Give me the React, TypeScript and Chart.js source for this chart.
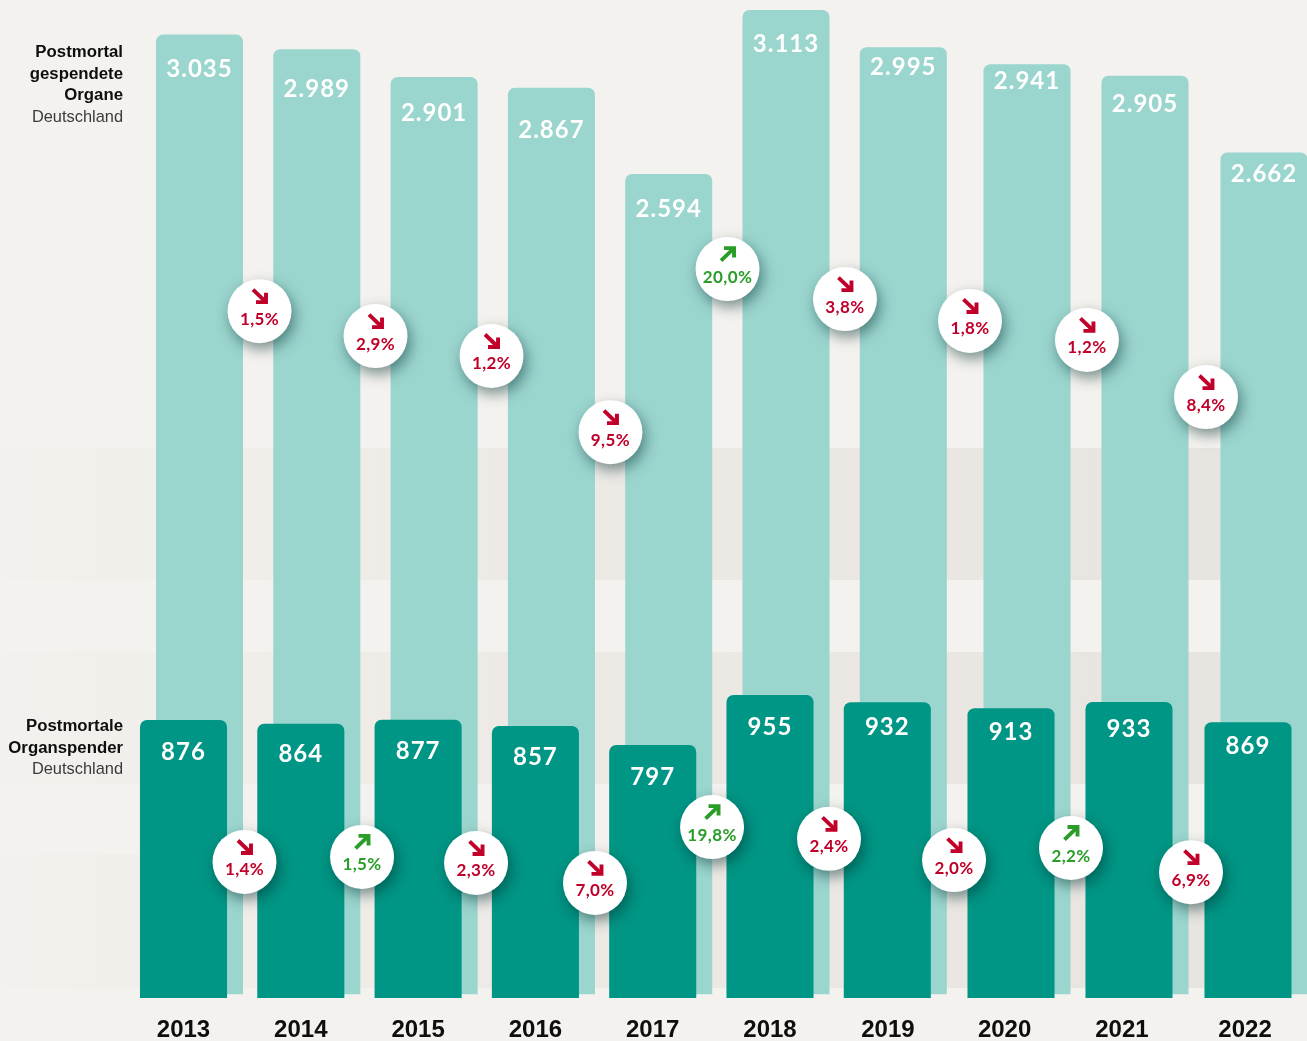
import React, { useEffect, useRef } from "react";
import { Chart, registerables } from "chart.js";

Chart.register(...registerables);

const years = [2013, 2014, 2015, 2016, 2017, 2018, 2019, 2020, 2021, 2022];
const organValues = [3035, 2989, 2901, 2867, 2594, 3113, 2995, 2941, 2905, 2662];
const donorValues = [876, 864, 877, 857, 797, 955, 932, 913, 933, 869];
const organChanges = [-1.5, -2.9, -1.2, -9.5, 20.0, -3.8, -1.8, -1.2, -8.4];
const donorChanges = [-1.4, 1.5, -2.3, -7.0, 19.8, -2.4, -2.0, 2.2, -6.9];
const organBadgeLevels = [2161, 2082, 2019, 1778, 2294, 2199, 2130, 2070, 1889];
const donorBadgeLevels = [429, 445, 426, 363, 539, 502, 435, 473, 397];
const organBadgeSlots = [2013.648, 2014.637, 2015.626, 2016.64, 2017.638, 2018.639, 2019.705, 2020.702, 2021.717];
const donorBadgeSlots = [2013.52, 2014.522, 2015.494, 2016.508, 2017.506, 2018.503, 2019.569, 2020.566, 2021.589];
const organCaption = ["Postmortal", "gespendete", "Organe"];
const donorCaption = ["Postmortale", "Organspender"];
const captionRegion = "Deutschland";

const BAR_SHIFT = [0, 0, 0, 0, 0, 0, 0, 0.0546, 0.0605, 0.075];
const TICK_SHIFT = [0, 0, 0, 0, 0, 0, 0.005, 0, 0, 0.05];
const ORGAN_LABEL_DROP = [34, 39.5, 36, 42, 35, 34, 19.5, 16.5, 28, 21];
const DONOR_LABEL_DROP = [32, 30, 31, 31, 32, 32, 25, 24, 27, 24];
const ORGAN_OFFSET = 0.1364;
const W = 1307;
const H = 1041;
const BG = "#F4F2EE";
const LIGHT = "#9AD5CE";
const DARK = "#009685";
const RED = "#C1002A";
const GREEN = "#2A9D28";
const BAR_FONT = "bold 24px Lato";
const BADGE_FONT = "bold 17px Lato";
const CAPTION_BOLD = "bold 16.8px 'Liberation Sans'";
const CAPTION_REG = "16.4px 'Liberation Sans'";

const fmtValue = (v: number) => v.toLocaleString("de-DE");
const fmtChange = (v: number) => Math.abs(v).toFixed(1).replace(".", ",") + "%";

function drawArrow(ctx: CanvasRenderingContext2D, x: number, y: number, up: boolean, color: string) {
  const s = up ? -1 : 1;
  ctx.save();
  ctx.translate(x, y);
  ctx.strokeStyle = color;
  ctx.lineWidth = 3.9;
  ctx.lineJoin = "miter";
  ctx.lineCap = "butt";
  ctx.beginPath();
  ctx.moveTo(-7, -6.5 * s);
  ctx.lineTo(6, 6 * s);
  ctx.stroke();
  ctx.beginPath();
  ctx.moveTo(6, -3.5 * s);
  ctx.lineTo(6, 6 * s);
  ctx.lineTo(-4, 6 * s);
  ctx.stroke();
  ctx.restore();
}

const backgroundPlugin = {
  id: "bands",
  beforeDraw(chart: any) {
    const { ctx } = chart;
    ctx.save();
    ctx.fillStyle = BG;
    ctx.fillRect(0, 0, W, H);
    const g = ctx.createLinearGradient(0, 0, W, 0);
    g.addColorStop(0, "#F3F1ED");
    g.addColorStop(0.35, "#EEEBE7");
    g.addColorStop(1, "#E7E4DF");
    ctx.fillStyle = g;
    for (const [a, b] of [[448, 580], [652, 784], [854, 988]]) ctx.fillRect(0, a, W, b - a);
    ctx.restore();
  },
};

const badgeShadowPlugin = {
  id: "badgeShadow",
  beforeDatasetDraw(chart: any, args: any) {
    if (args.meta.type !== "scatter") return;
    const { ctx } = chart;
    ctx.save();
    ctx.shadowColor = "rgba(0,45,45,0.5)";
    ctx.shadowBlur = 14;
    ctx.shadowOffsetX = 3;
    ctx.shadowOffsetY = 6;
  },
  afterDatasetDraw(chart: any, args: any) {
    const { ctx } = chart;
    const ds = chart.data.datasets[args.index];
    if (args.meta.type === "scatter") {
      ctx.restore();
      const changes = ds.changes as number[];
      args.meta.data.forEach((pt: any, i: number) => {
        const v = changes[i];
        const color = v > 0 ? GREEN : RED;
        drawArrow(ctx, pt.x + 0.5, pt.y - 15, v > 0, color);
        ctx.save();
        ctx.font = BADGE_FONT;
        (ctx as any).letterSpacing = "0.4px";
        ctx.fillStyle = color;
        ctx.textAlign = "center";
        ctx.textBaseline = "middle";
        ctx.fillText(fmtChange(v), pt.x, pt.y + 8);
        ctx.restore();
      });
    } else {
      const values = ds.values as number[];
      const drops = ds.labelDrop as number[];
      args.meta.data.forEach((bar: any, i: number) => {
        ctx.save();
        ctx.font = BAR_FONT;
        (ctx as any).letterSpacing = "1px";
        ctx.fillStyle = "#FFFFFF";
        ctx.textAlign = "center";
        ctx.textBaseline = "middle";
        ctx.fillText(fmtValue(values[i]), bar.x, bar.y + drops[i]);
        ctx.restore();
      });
    }
  },
};

const captionPlugin = {
  id: "captions",
  afterDraw(chart: any) {
    const { ctx } = chart;
    const block = (lines: string[], startY: number) => {
      ctx.save();
      ctx.textAlign = "right";
      ctx.textBaseline = "middle";
      ctx.font = CAPTION_BOLD;
      ctx.fillStyle = "#0E0E0E";
      lines.forEach((t, i) => ctx.fillText(t, 123, startY + i * 21.5));
      ctx.font = CAPTION_REG;
      ctx.fillStyle = "#3A3A3A";
      ctx.fillText(captionRegion, 123, startY + lines.length * 21.5);
      ctx.restore();
    };
    block(organCaption, 52.5);
    block(donorCaption, 726.5);
  },
};

export default function App() {
  const ref = useRef<HTMLCanvasElement | null>(null);

  useEffect(() => {
    document.body.style.background = BG;
    const chart = new Chart(ref.current as HTMLCanvasElement, {
      type: "bar",
      data: {
        datasets: [
          {
            type: "scatter",
            data: donorBadgeLevels.map((y, i) => ({ x: donorBadgeSlots[i], y })),
            changes: donorChanges,
            yAxisID: "y",
            pointRadius: 32,
            pointHoverRadius: 32,
            pointBackgroundColor: "#FFFFFF",
            pointBorderWidth: 0,
            order: 1,
          },
          {
            type: "bar",
            data: donorValues.map((y, i) => ({ x: years[i] + BAR_SHIFT[i], y })),
            values: donorValues,
            labelDrop: DONOR_LABEL_DROP,
            yAxisID: "y",
            backgroundColor: DARK,
            barThickness: 86.4,
            grouped: false,
            borderRadius: { topLeft: 7, topRight: 7, bottomLeft: 0, bottomRight: 0 },
            borderSkipped: false,
            order: 2,
          },
          {
            type: "scatter",
            data: organBadgeLevels.map((y, i) => ({ x: organBadgeSlots[i], y })),
            changes: organChanges,
            yAxisID: "yOrgan",
            pointRadius: 32,
            pointHoverRadius: 32,
            pointBackgroundColor: "#FFFFFF",
            pointBorderWidth: 0,
            order: 3,
          },
          {
            type: "bar",
            data: organValues.map((y, i) => ({ x: years[i] + BAR_SHIFT[i] + ORGAN_OFFSET, y })),
            values: organValues,
            labelDrop: ORGAN_LABEL_DROP,
            yAxisID: "yOrgan",
            backgroundColor: LIGHT,
            barThickness: 86.4,
            grouped: false,
            borderRadius: { topLeft: 7, topRight: 7, bottomLeft: 0, bottomRight: 0 },
            borderSkipped: false,
            order: 4,
          },
        ] as any,
      },
      options: {
        animation: false,
        responsive: false,
        layout: { padding: 0, autoPadding: false },
        events: [],
        plugins: { legend: { display: false }, tooltip: { enabled: false } },
        scales: {
          x: {
            type: "linear",
            min: 2011.4356,
            max: 2022.578,
            offset: false,
            grid: { display: false },
            border: { display: false },
            afterFit(scale: any) {
              scale.height = 43;
            },
            afterBuildTicks(scale: any) {
              scale.ticks = years.map((y, i) => ({ value: y + TICK_SHIFT[i], label: String(y) }));
            },
            ticks: {
              autoSkip: false,
              maxRotation: 0,
              minRotation: 0,
              padding: 10,
              color: "#0E0E0E",
              font: { family: "'Liberation Sans'", weight: "bold", size: 24 },
              callback(_v: any, i: number) {
                return String(years[i]);
              },
            },
          },
          y: { display: false, min: 0, max: 3148 },
          yOrgan: { display: false, min: -12.66, max: 3145.6 },
        },
      } as any,
      plugins: [backgroundPlugin, badgeShadowPlugin, captionPlugin],
    });
    return () => chart.destroy();
  }, []);

  return (
    <div style={{ position: "absolute", left: 0, top: 0, width: W, height: H, overflow: "hidden" }}>
      <canvas ref={ref} width={W} height={H} style={{ display: "block", width: W, height: H }} />
    </div>
  );
}
